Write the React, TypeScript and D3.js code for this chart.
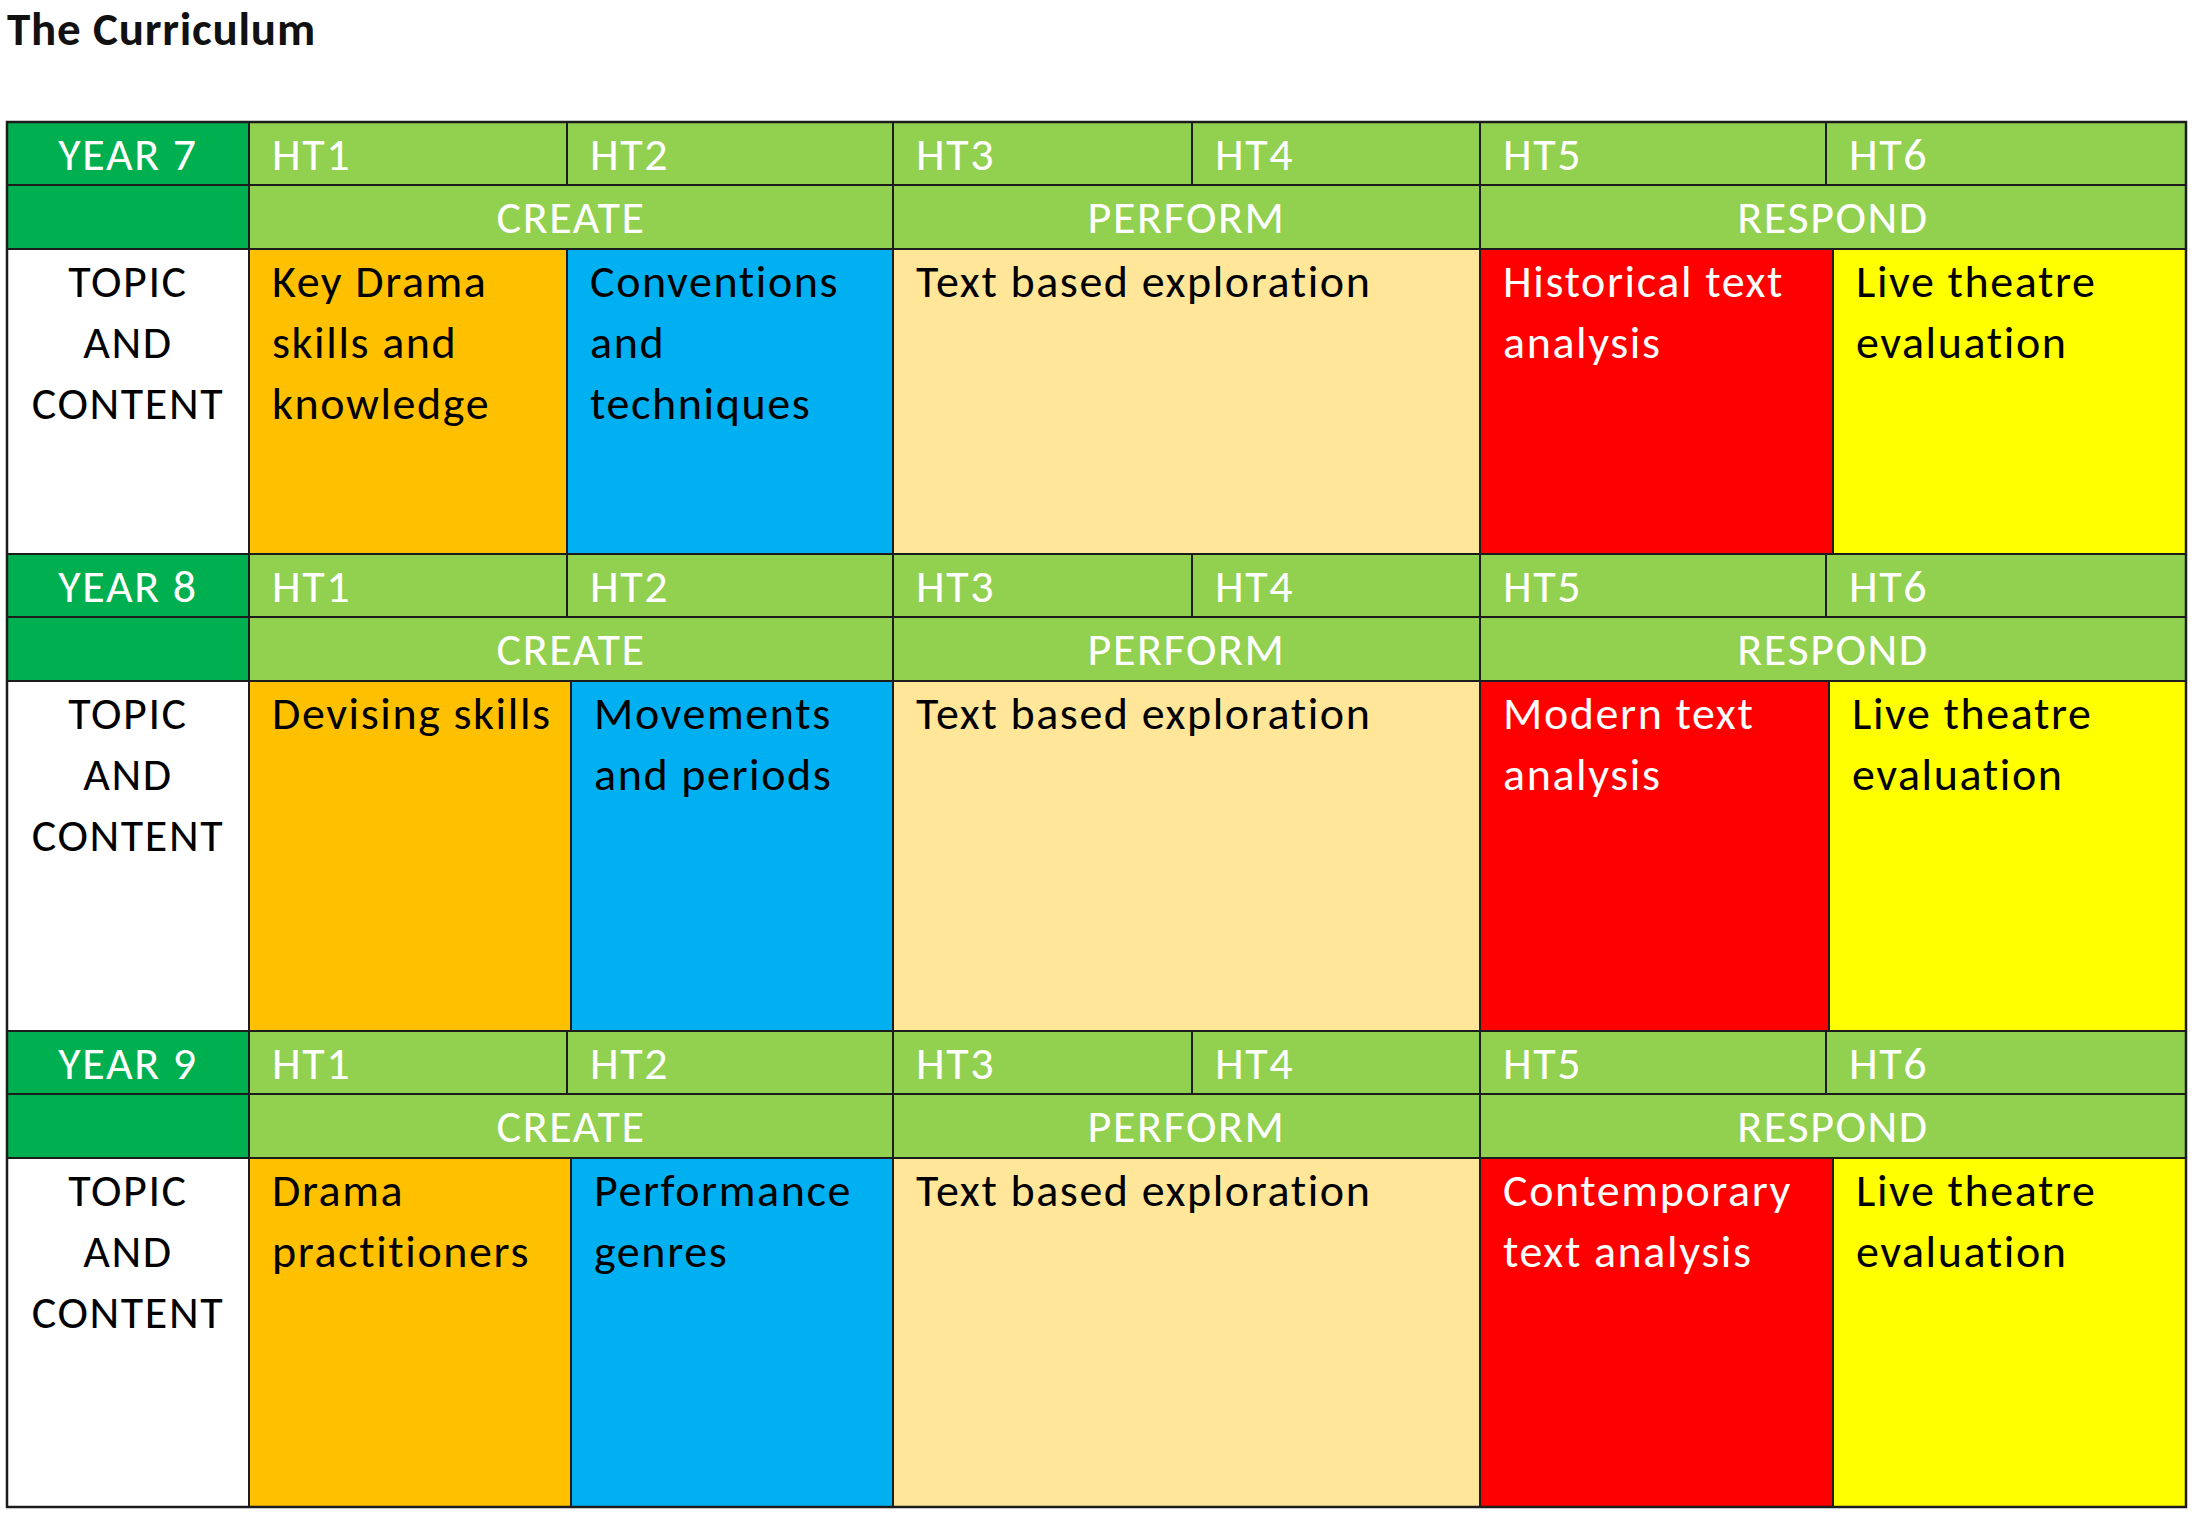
import React from "react"
import * as d3 from "d3"

const width = 2196
const height = 1516

// data
const years = ["YEAR 7", "YEAR 8", "YEAR 9"]
const halfTerms = ["HT1", "HT2", "HT3", "HT4", "HT5", "HT6"]
const strands = ["CREATE", "PERFORM", "RESPOND"]
const strandSpan = [2, 2, 2]
const rowLabel = ["TOPIC", "AND", "CONTENT"]
const topicKinds = ["skills", "styles", "text", "analysis", "live"]
const year7Topics = [
  ["Key Drama", "skills and", "knowledge"],
  ["Conventions", "and", "techniques"],
  ["Text based exploration"],
  ["Historical text", "analysis"],
  ["Live theatre", "evaluation"],
]
const year8Topics = [
  ["Devising skills"],
  ["Movements", "and periods"],
  ["Text based exploration"],
  ["Modern text", "analysis"],
  ["Live theatre", "evaluation"],
]
const year9Topics = [
  ["Drama", "practitioners"],
  ["Performance", "genres"],
  ["Text based exploration"],
  ["Contemporary", "text analysis"],
  ["Live theatre", "evaluation"],
]
const topicsByYear = [year7Topics, year8Topics, year9Topics]

// layout
const headEdges = [7, 249, 567, 893, 1192, 1480, 1826, 2186]
const contentEdges = [
  [249, 567, 893, 1480, 1833, 2186],
  [249, 571, 893, 1480, 1829, 2186],
  [249, 571, 893, 1480, 1833, 2186],
]
const blockTop = [122, 554, 1031]
const blockBottom = [554, 1031, 1507]
const htRowH = 63
const strandRowH = 64
const lineGap = 61
const pad = 23

const fillColor = d3
  .scaleOrdinal<string, string>()
  .domain(topicKinds)
  .range(["#FFC000", "#00B0F0", "#FFE699", "#FF0000", "#FFFF00"])
const textColor = d3
  .scaleOrdinal<string, string>()
  .domain(topicKinds)
  .range(["#000", "#000", "#000", "#fff", "#000"])

const font = "Carlito, Calibri, Lato, sans-serif"
const fs = 46
const ls = 1.6
const stroke = "#1c1c1c"

export default function App() {
  return (
    <svg
      width={width}
      height={height}
      style={{ position: "absolute", left: 0, top: 0, background: "#fff" }}
      fontFamily={font}
      letterSpacing={ls}
    >
      <text x={7} y={45} fontSize={47} fontWeight="bold" fill="#111" letterSpacing={0.8}>
        The Curriculum
      </text>
      {years.map((year, yi) => {
        const top = blockTop[yi]
        const y1 = top + htRowH
        const y2 = y1 + strandRowH
        const bottom = blockBottom[yi]
        const topics = topicsByYear[yi]
        const cEdges = contentEdges[yi]
        let startCol = 0
        return (
          <g key={year}>
            {/* year label cells */}
            <rect x={headEdges[0]} y={top} width={headEdges[1] - headEdges[0]} height={y2 - top} fill="#00B050" stroke={stroke} strokeWidth={2} />
            <line x1={headEdges[0]} x2={headEdges[1]} y1={y1} y2={y1} stroke={stroke} strokeWidth={2} />
            <text x={(headEdges[0] + headEdges[1]) / 2} y={top + 48} fontSize={fs} fill="#fff" textAnchor="middle">
              {year}
            </text>
            {/* half terms */}
            {halfTerms.map((ht, i) => (
              <g key={ht}>
                <rect x={headEdges[i + 1]} y={top} width={headEdges[i + 2] - headEdges[i + 1]} height={htRowH} fill="#92D050" stroke={stroke} strokeWidth={2} />
                <text x={headEdges[i + 1] + pad} y={top + 48} fontSize={fs} fill="#fff">
                  {ht}
                </text>
              </g>
            ))}
            {/* strands */}
            {strands.map((s, i) => {
              const a = headEdges[startCol + 1]
              const b = headEdges[startCol + 1 + strandSpan[i]]
              startCol += strandSpan[i]
              return (
                <g key={s}>
                  <rect x={a} y={y1} width={b - a} height={strandRowH} fill="#92D050" stroke={stroke} strokeWidth={2} />
                  <text x={(a + b) / 2} y={y1 + 48} fontSize={fs} fill="#fff" textAnchor="middle">
                    {s}
                  </text>
                </g>
              )
            })}
            {/* topic row */}
            <rect x={headEdges[0]} y={y2} width={headEdges[1] - headEdges[0]} height={bottom - y2} fill="#fff" stroke={stroke} strokeWidth={2} />
            {rowLabel.map((w, i) => (
              <text key={w} x={(headEdges[0] + headEdges[1]) / 2} y={y2 + 48 + i * lineGap} fontSize={fs} fill="#000" textAnchor="middle">
                {w}
              </text>
            ))}
            {topics.map((lines, i) => (
              <g key={i}>
                <rect x={cEdges[i]} y={y2} width={cEdges[i + 1] - cEdges[i]} height={bottom - y2} fill={fillColor(topicKinds[i])} stroke={stroke} strokeWidth={2} />
                {lines.map((ln, j) => (
                  <text key={j} x={cEdges[i] + pad} y={y2 + 48 + j * lineGap} fontSize={fs} fill={textColor(topicKinds[i])}>
                    {ln}
                  </text>
                ))}
              </g>
            ))}
          </g>
        )
      })}
      <rect x={headEdges[0]} y={blockTop[0]} width={headEdges[7] - headEdges[0]} height={blockBottom[2] - blockTop[0]} fill="none" stroke={stroke} strokeWidth={2.5} />
    </svg>
  )
}
